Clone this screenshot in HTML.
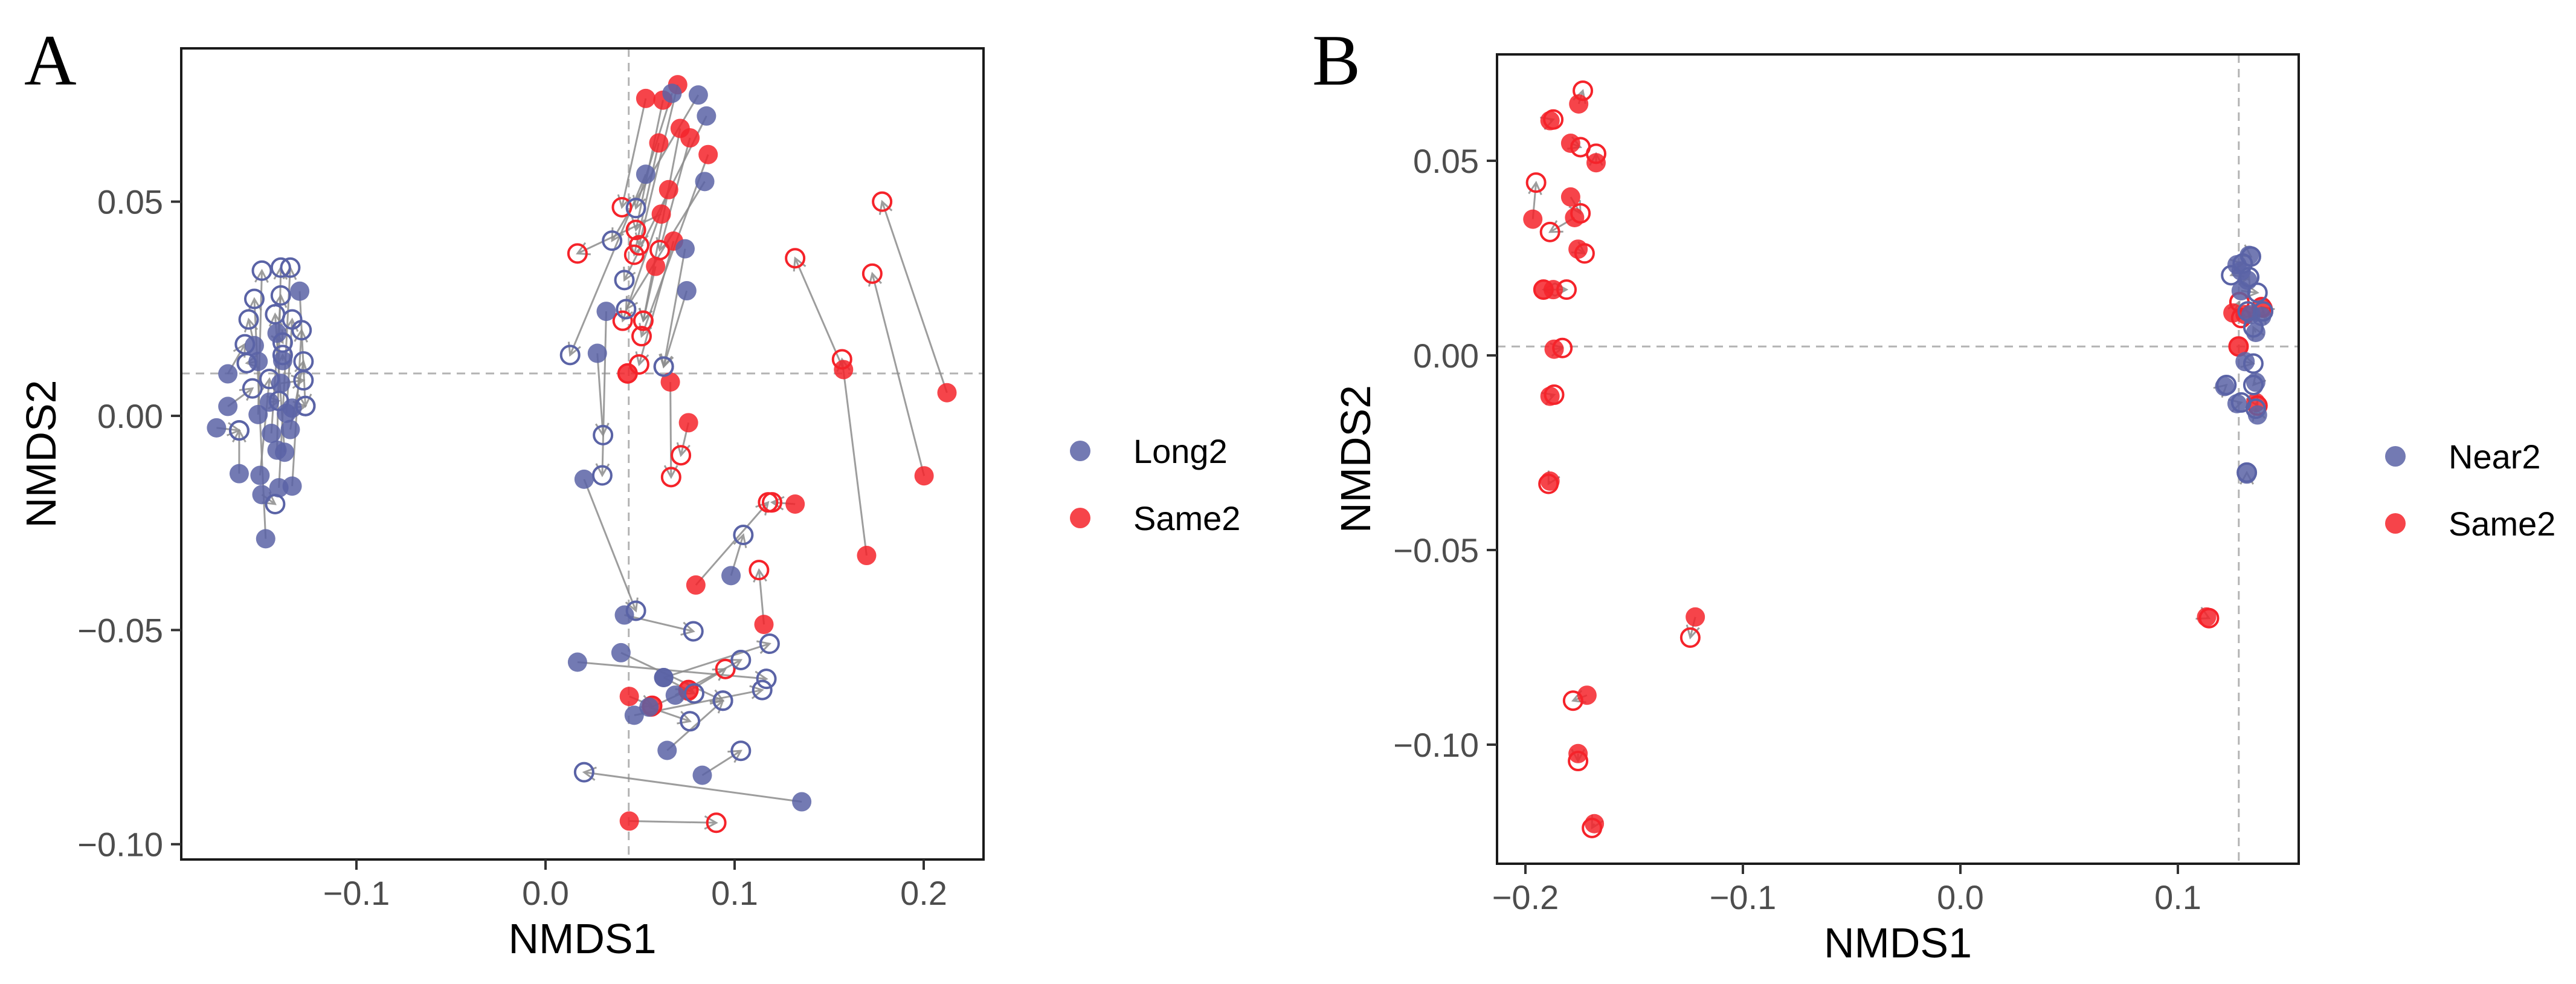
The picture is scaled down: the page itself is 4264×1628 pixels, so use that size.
<!DOCTYPE html>
<html><head><meta charset="utf-8"><style>
html,body{margin:0;padding:0;background:#fff}
svg{display:block}
text{font-family:"Liberation Sans",sans-serif}
</style></head><body>
<svg id="fig" xmlns="http://www.w3.org/2000/svg" width="4264" height="1628" viewBox="0 0 4264 1628">
<text x="40" y="140" font-family="Liberation Serif" style="font-family:'Liberation Serif',serif" font-size="120" fill="#000">A</text>
<text x="2172" y="140" style="font-family:'Liberation Serif',serif" font-size="120" fill="#000">B</text>
</svg>
<script>
// ---------- Panel A data (filled -> open) ----------
const aFx=[-0.174,-0.168,-0.168,-0.162,-0.154,-0.152,-0.151,-0.150,-0.152,-0.148,-0.145,-0.142,-0.141,-0.138,-0.137,-0.134,-0.135,-0.142,-0.139,-0.140,-0.130,-0.146,-0.134,
0.0530,0.0621,0.0699,0.0599,0.0712,0.0764,0.0860,0.0651,0.0612,0.0677,0.0582,0.0660,0.0756,0.0434,0.1320,0.1698,0.2002,0.2123,0.1576,0.0795,0.1155,0.0443,0.0756,0.0443,0.0560,
0.0669,0.0808,0.0851,0.0530,0.0842,0.0738,0.0747,0.0321,0.0274,0.0204,0.0417,0.0399,0.0169,0.0625,0.0686,0.0469,0.0547,0.0643,0.0829,0.1355,0.0981,0.0625];
const aFy=[-0.0028,0.0098,0.0022,-0.0135,0.0164,0.0127,-0.0139,-0.0184,0.0003,-0.0287,-0.0041,-0.0080,-0.0168,-0.0085,0.0006,-0.0164,-0.0032,0.0193,0.0129,0.0076,0.0291,0.0032,0.0018,
0.0741,0.0737,0.0773,0.0637,0.0671,0.0649,0.0610,0.0528,0.0471,0.0408,0.0349,0.0079,-0.0016,0.0099,-0.0206,-0.0326,-0.0140,0.0054,0.0108,-0.0395,-0.0487,-0.0946,-0.0643,-0.0655,-0.0680,
0.0753,0.0749,0.0700,0.0564,0.0547,0.0390,0.0292,0.0244,0.0146,-0.0148,-0.0465,-0.0553,-0.0575,-0.0611,-0.0652,-0.0699,-0.0680,-0.0781,-0.0839,-0.0901,-0.0373,-0.0611];
const aOx=[-0.162,-0.159,-0.155,-0.162,-0.157,-0.158,-0.146,-0.143,-0.150,-0.154,-0.140,-0.140,-0.135,-0.143,-0.134,-0.129,-0.128,-0.139,-0.139,-0.128,-0.127,-0.141,-0.127,
0.0404,0.0478,0.0495,0.0469,0.0517,0.0604,0.0508,0.0408,0.0169,0.0495,0.0517,0.0664,0.0716,0.0434,0.1198,0.1568,0.1728,0.1780,0.1320,0.1177,0.1129,0.0903,0.0951,0.0564,0.0756,
0.0478,0.0352,0.0417,0.0130,0.0426,0.0625,0.0625,0.0300,0.0304,0.0478,0.0782,0.0938,0.1168,0.1185,0.1033,0.1146,0.0764,0.0938,0.1033,0.0204,0.1046,0.0786];
const aOy=[-0.0034,0.0167,0.0064,-0.0034,0.0225,0.0123,0.0086,-0.0206,0.0339,0.0273,0.0281,0.0346,0.0346,0.0237,0.0225,0.0200,0.0127,0.0171,0.0142,0.0083,0.0023,0.0035,0.0023,
0.0487,0.0434,0.0398,0.0376,0.0222,0.0387,0.0186,0.0222,0.0379,0.0120,0.0222,-0.0143,-0.0092,0.0099,-0.0202,0.0132,0.0332,0.0500,0.0368,-0.0202,-0.0360,-0.0950,-0.0591,-0.0677,-0.0640,
0.0485,0.0409,0.0317,0.0142,0.0249,0.0115,0.0115,-0.0139,-0.0045,-0.0455,-0.0503,-0.0665,-0.0614,-0.0532,-0.0570,-0.0640,-0.0713,-0.0665,-0.0782,-0.0832,-0.0278,-0.0648];
const aGrp="LLLLLLLLLLLLLLLLLLLLLLLSSSSSSSSSSSSSSSSSSSSSSSSSLLLLLLLLLLLLLLLLLLLLLL".split("");
const aXTicks=[-0.1,0,0.1,0.2];
const aXTickLabels=["\u22120.1","0.0","0.1","0.2"];
const aYTicks=[-0.1,-0.05,0,0.05];
const aYTickLabels=["\u22120.10","\u22120.05","0.00","0.05"];
const aRef=[0.044,0.0099];
const aLegend=["Long2","Same2"];

// ---------- Panel B data ----------
const bFx=[-0.1755,-0.1887,-0.1792,-0.1675,-0.1966,-0.1792,-0.1774,-0.1758,-0.1917,-0.1872,-0.1868,-0.1887,-0.1887,-0.1219,-0.1717,-0.1758,-0.1683,0.1132,
0.1253,0.1309,0.1392,0.1358,0.1279,
0.1328,0.1291,0.1321,0.1291,0.1336,0.1385,0.1358,0.1309,0.1215,0.1358,0.1272,0.1366,0.1317,0.1272];
const bFy=[0.0646,0.0603,0.0545,0.0495,0.0350,0.0407,0.0354,0.0273,0.0169,0.0169,0.0016,-0.0105,-0.0323,-0.0672,-0.0873,-0.1023,-0.1203,-0.0672,
0.0109,0.0105,0.0121,-0.0121,0.0023,
0.0257,0.0217,0.0193,0.0166,0.0105,0.0100,0.0059,-0.0016,-0.0080,-0.0069,-0.0124,-0.0153,-0.0305,0.0233];
const bOx=[-0.1736,-0.1872,-0.1747,-0.1675,-0.1951,-0.1747,-0.1887,-0.1728,-0.1811,-0.1917,-0.1830,-0.1868,-0.1894,-0.1242,-0.1781,-0.1758,-0.1694,0.1143,
0.1283,0.1291,0.1385,0.1366,0.1279,
0.1336,0.1245,0.1328,0.1366,0.1321,0.1392,0.1347,0.1347,0.1223,0.1347,0.1291,0.1358,0.1317,0.1298];
const bOy=[0.0680,0.0606,0.0535,0.0518,0.0444,0.0365,0.0317,0.0262,0.0169,0.0169,0.0019,-0.0101,-0.0330,-0.0725,-0.0887,-0.1042,-0.1214,-0.0675,
0.0137,0.0096,0.0124,-0.0129,0.0023,
0.0254,0.0206,0.0201,0.0161,0.0113,0.0113,0.0072,-0.0021,-0.0076,-0.0076,-0.0121,-0.0137,-0.0301,0.0236];
const bGrp="SSSSSSSSSSSSSSSSSSSSSSSNNNNNNNNNNNNNN".split("");
const bXTicks=[-0.2,-0.1,0,0.1];
const bXTickLabels=["\u22120.2","\u22120.1","0.0","0.1"];
const bYTicks=[-0.1,-0.05,0,0.05];
const bYTickLabels=["\u22120.10","\u22120.05","0.00","0.05"];
const bRef=[0.128,0.0023];
const bLegend=["Near2","Same2"];

const NS="http://www.w3.org/2000/svg";
const svg=document.getElementById("fig");
function mk(tag,attrs,parent){const e=document.createElementNS(NS,tag);for(const k in attrs)e.setAttribute(k,attrs[k]);(parent||svg).appendChild(e);return e;}
const BLUE="#5a63a6", RED="#f5232a";

function panel(p){
  const sx=v=>p.x0+v*p.kx, sy=v=>p.y0-v*p.ky;
  const g=mk("g",{});
  
  
  // ref lines
  const vl=mk("line",{x1:sx(p.ref[0]),x2:sx(p.ref[0]),y1:p.top,y2:p.bot,stroke:"#b3b3b3","stroke-width":3,"stroke-dasharray":"14 10"},g);
  
  
  const hl=mk("line",{x1:p.left,x2:p.right,y1:sy(p.ref[1]),y2:sy(p.ref[1]),stroke:"#b3b3b3","stroke-width":3,"stroke-dasharray":"14 10"},g);
  
  
  // arrows
  for(let i=0;i<p.fx.length;i++){
    const x1=sx(p.fx[i]),y1=sy(p.fy[i]),x2=sx(p.ox[i]),y2=sy(p.oy[i]);
    const d=Math.hypot(x2-x1,y2-y1);
    if(d<1)continue;
    const ux=(x2-x1)/d,uy=(y2-y1)/d,L=22,w=0.5;
    const ax=x2-L*(ux*Math.cos(w)-uy*Math.sin(w)), ay=y2-L*(uy*Math.cos(w)+ux*Math.sin(w));
    const bx=x2-L*(ux*Math.cos(-w)-uy*Math.sin(-w)), by=y2-L*(uy*Math.cos(-w)+ux*Math.sin(-w));
    const a=mk("path",{d:`M${x1},${y1}L${x2},${y2}M${ax},${ay}L${x2},${y2}L${bx},${by}`,stroke:"#8c8c8c","stroke-width":3,fill:"none","stroke-opacity":0.85},g);
    
    
  }
  // points
  for(let i=0;i<p.fx.length;i++){
    const c=p.grp[i]==="S"?RED:BLUE;
    const f=mk("circle",{cx:sx(p.fx[i]),cy:sy(p.fy[i]),r:16,fill:c,"fill-opacity":0.85},g);
    
    
    const o=mk("circle",{cx:sx(p.ox[i]),cy:sy(p.oy[i]),r:15,fill:"none",stroke:c,"stroke-width":4},g);
    
    
  }
  const box=mk("rect",{x:p.left,y:p.top,width:p.right-p.left,height:p.bot-p.top,fill:"none",stroke:"#1a1a1a","stroke-width":4},g);
  
  
  p.xt.forEach((v,i)=>{
    const t=mk("line",{x1:sx(v),x2:sx(v),y1:p.bot,y2:p.bot+17,stroke:"#333","stroke-width":4},g);
    
    
    const l=mk("text",{x:sx(v),y:p.bot+75,"text-anchor":"middle","font-size":56,fill:"#4d4d4d"},g);
    l.textContent=p.xtl[i];
    
    
  });
  p.yt.forEach((v,i)=>{
    const t=mk("line",{x1:p.left-17,x2:p.left,y1:sy(v),y2:sy(v),stroke:"#333","stroke-width":4},g);
    
    
    const l=mk("text",{x:p.left-30,y:sy(v)+20,"text-anchor":"end","font-size":56,fill:"#4d4d4d"},g);
    l.textContent=p.ytl[i];
    
    
  });
  const xt=mk("text",{x:(p.left+p.right)/2,y:p.bot+155,"text-anchor":"middle","font-size":70,fill:"#000"},g);
  xt.textContent="NMDS1";
  
  
  const yt=mk("text",{x:0,y:0,"text-anchor":"middle","font-size":70,fill:"#000",transform:`translate(${p.ytx},${(p.top+p.bot)/2}) rotate(-90)`},g);
  yt.textContent="NMDS2";
  
  
  p.leg.forEach((lab,i)=>{
    const cy=p.legY+i*111;
    const c=mk("circle",{cx:p.legX,cy:cy,r:17,fill:i===0?BLUE:RED,"fill-opacity":0.85},g);
    
    
    const t=mk("text",{x:p.legX+88,y:cy+20,"font-size":56,fill:"#000"},g);
    t.textContent=lab;
    
    
  });
}
panel({name:"panel-a",x0:903,kx:3130,y0:688,ky:7087,left:300,right:1628,top:80,bot:1422,
  fx:aFx,fy:aFy,ox:aOx,oy:aOy,grp:aGrp,xt:aXTicks,xtl:aXTickLabels,yt:aYTicks,ytl:aYTickLabels,ref:aRef,
  ytx:92,leg:aLegend,legX:1788,legY:746});
panel({name:"panel-b",x0:3245,kx:3600,y0:588,ky:6440,left:2478,right:3805,top:90,bot:1429,
  fx:bFx,fy:bFy,ox:bOx,oy:bOy,grp:bGrp,xt:bXTicks,xtl:bXTickLabels,yt:bYTicks,ytl:bYTickLabels,ref:bRef,
  ytx:2268,leg:bLegend,legX:3965,legY:755});
</script>
</body></html>
